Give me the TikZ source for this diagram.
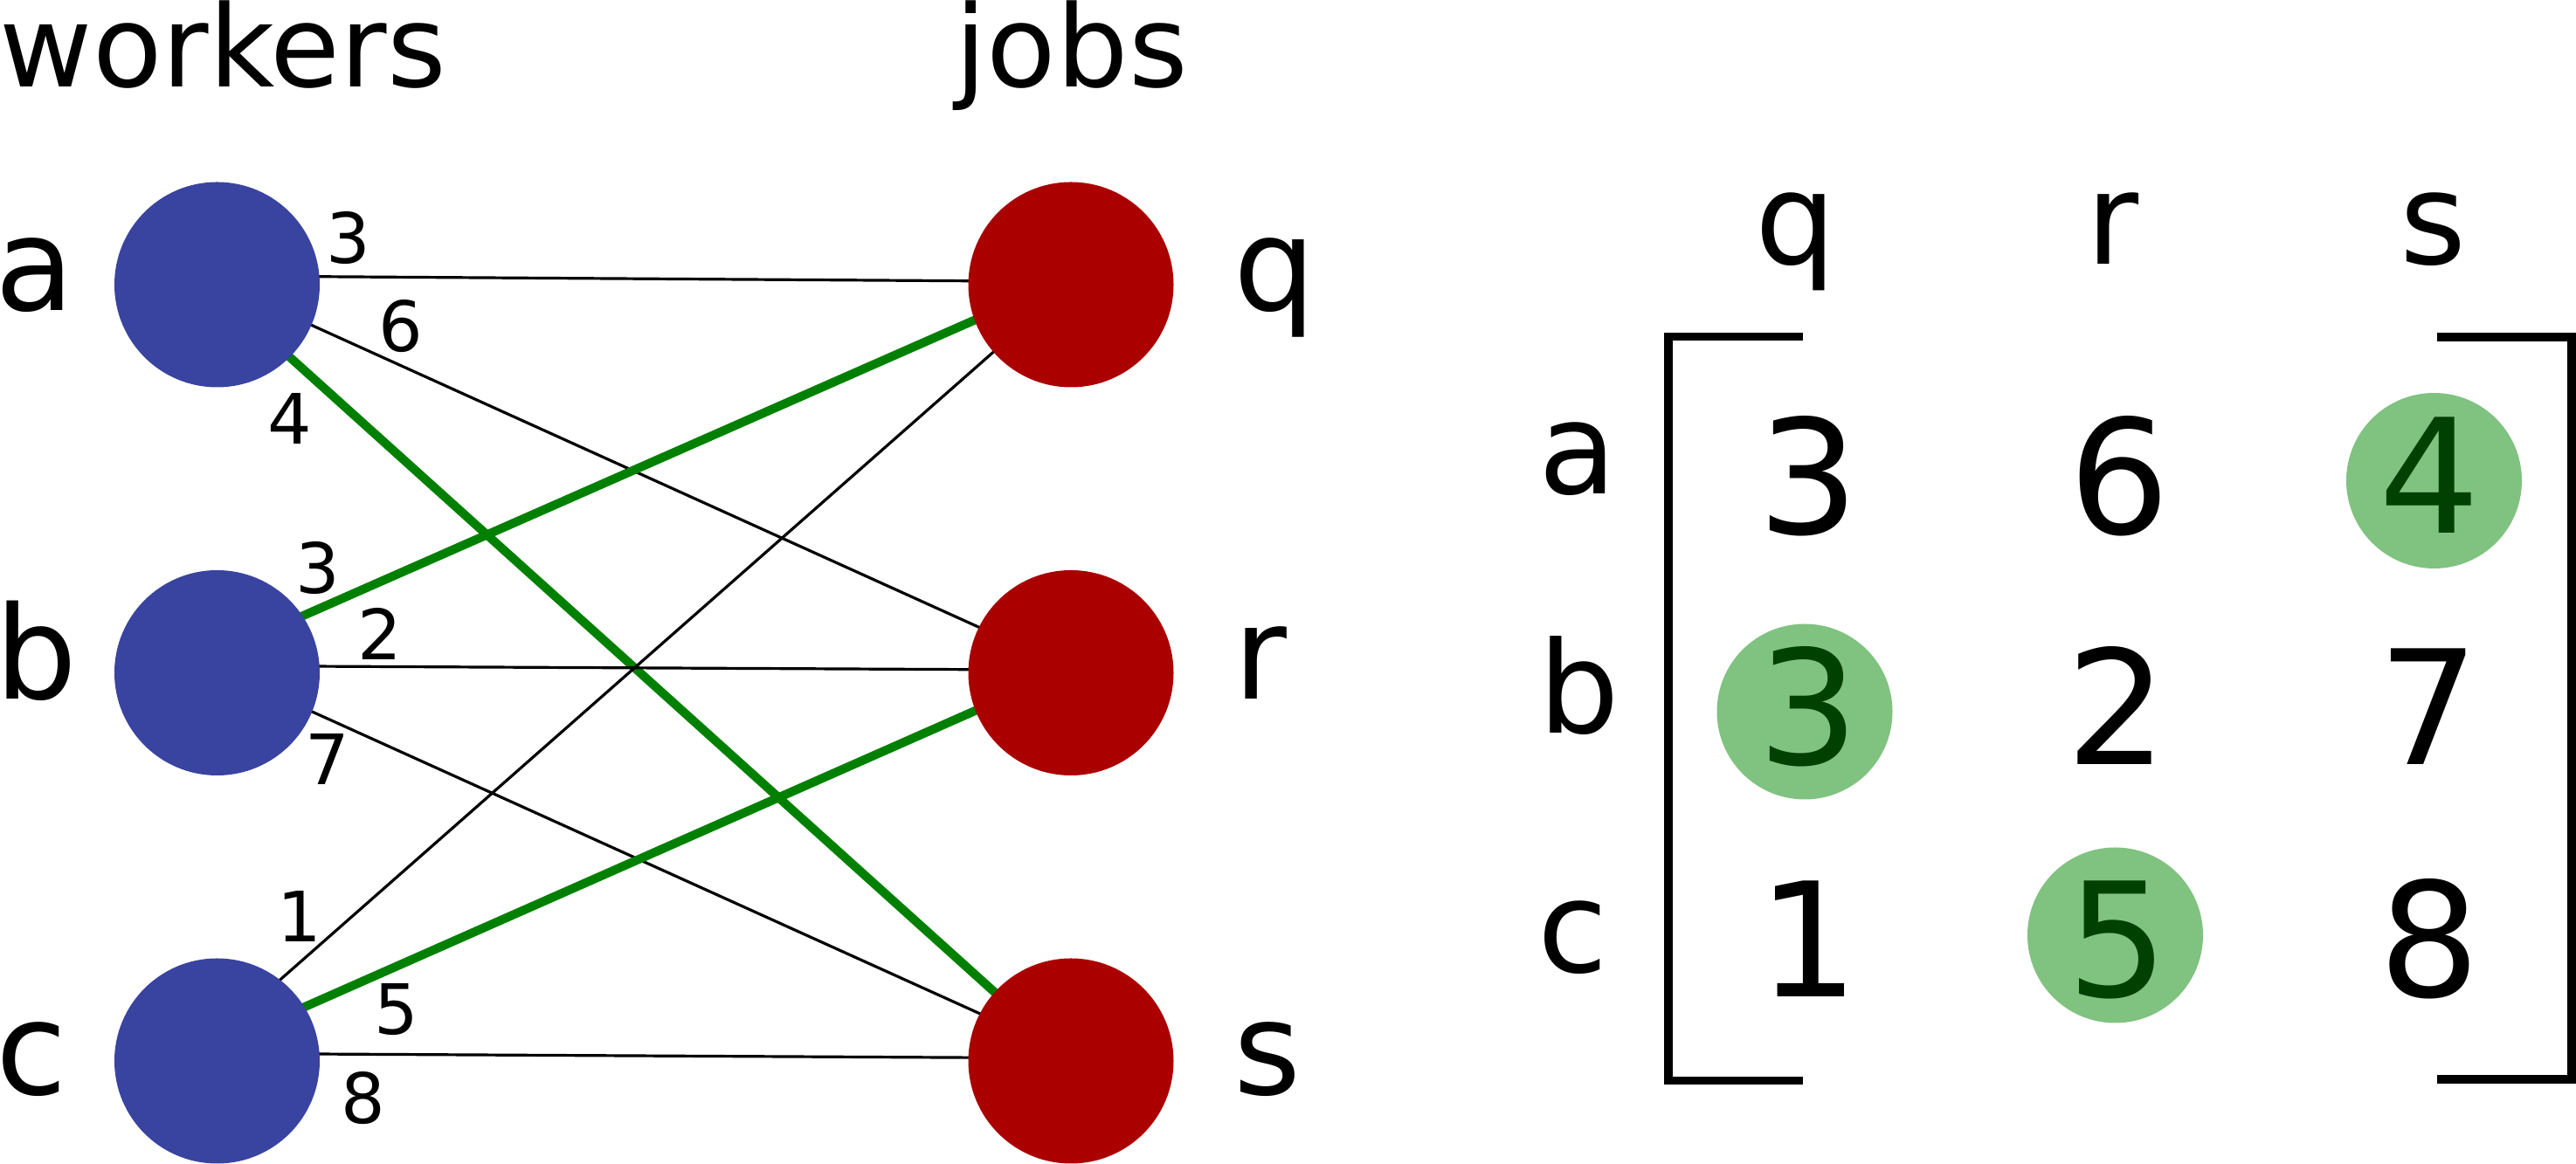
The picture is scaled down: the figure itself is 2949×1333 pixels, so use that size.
\documentclass[tikz,border=0pt]{standalone}
\usepackage{fontspec}
\setmainfont{DejaVu Sans}
\usetikzlibrary{calc}
\pgfdeclarelayer{bg}
\pgfsetlayers{bg,main}
\definecolor{wblue}{RGB}{57,67,160}
\definecolor{jred}{RGB}{170,0,0}
\definecolor{mgreen}{RGB}{0,128,0}
\definecolor{lgreen}{RGB}{128,194,128}
\definecolor{dgreen}{RGB}{0,64,0}
\tikzset{
 worker/.style={circle, fill=wblue, inner sep=0pt, minimum size=58.75pt},
 job/.style={circle, fill=jred, inner sep=0pt, minimum size=58.75pt},
 title/.style={anchor=base west, inner sep=0pt, font=\fontsize{32.5}{39}\selectfont},
 vlabel/.style={anchor=base west, inner sep=0pt, font=\fontsize{37}{44}\selectfont},
 wlabel/.style={anchor=center, inner sep=0pt, font=\fontsize{19.9}{24}\selectfont},
 thinedge/.style={draw=black, line width=0.8pt},
 chosen/.style={draw=mgreen, line width=2.5pt},
 mhead/.style={anchor=base west, inner sep=0pt, font=\fontsize{36.5}{44}\selectfont},
 entry/.style={anchor=center, inner sep=0pt, font=\fontsize{45.5}{55}\selectfont},
 pick/.style={circle, fill=lgreen, inner sep=0pt, minimum size=50.25pt},
 bracket/.style={draw=black, line width=2.3pt, line join=miter},
}
\begin{document}
\begin{tikzpicture}[x=0.25pt, y=-0.25pt]
\useasboundingbox (0,0) rectangle (2949,1333);

% titles
\node[title] (tw) at (-1,100) {workers};
\node[title] (tj) at (1093,100) {jobs};

% vertices
\node[worker] (a) at (248.5,326) {};
\node[worker] (b) at (248.5,770.5) {};
\node[worker] (c) at (248.5,1215) {};
\node[job] (q) at (1226,326) {};
\node[job] (r) at (1226,770.5) {};
\node[job] (s) at (1226,1215) {};

% vertex labels
\node[vlabel] (la) at (-6,356) {a};
\node[vlabel] (lb) at (-6,801) {b};
\node[vlabel] (lc) at (-5,1254) {c};
\node[vlabel] (lq) at (1412,356) {q};
\node[vlabel] (lr) at (1412,801) {r};
\node[vlabel] (ls) at (1412,1254) {s};

% edges
\begin{pgfonlayer}{bg}
\draw[thinedge] ($(a)+(0,-10)$) -- ($(q)+(0,-3.5)$);
\draw[thinedge] ($(a)+(0,-2.6)$) -- ($(r)+(0,-4.5)$);
\draw[chosen] ($(a)+(0,8)$) -- ($(s)+(0,0)$);
\draw[chosen] ($(b)+(0,-22)$) -- ($(q)+(0,-8)$);
\draw[thinedge] ($(b)+(0,-8)$) -- ($(r)+(0,-3.2)$);
\draw[thinedge] ($(b)+(0,-4.7)$) -- ($(s)+(0,-7)$);
\draw[thinedge] ($(c)+(0,-29.4)$) -- ($(q)+(0,-1)$);
\draw[chosen] ($(c)+(0,-17.6)$) -- ($(r)+(0,-5)$);
\draw[thinedge] ($(c)+(0,-8.6)$) -- ($(s)+(0,-3.2)$);
\end{pgfonlayer}

% edge weights
\node[wlabel] (waq) at (399,273) {3};
\node[wlabel] (war) at (458.5,374) {6};
\node[wlabel] (was) at (332,479.5) {4};
\node[wlabel] (wbq) at (364,651) {3};
\node[wlabel] (wbr) at (434.5,725.5) {2};
\node[wlabel] (wbs) at (374.5,869) {7};
\node[wlabel] (wcq) at (342.5,1049) {1};
\node[wlabel] (wcr) at (453.5,1156.5) {5};
\node[wlabel] (wcs) at (415.5,1257.5) {8};

% matrix headers
\node[mhead] (hq) at (2009,303) {q};
\node[mhead] (hr) at (2388,303) {r};
\node[mhead] (hs) at (2747,303) {s};
\node[mhead] (ra) at (1761,566) {a};
\node[mhead] (rb) at (1761,840) {b};
\node[mhead] (rc) at (1760,1114) {c};

% brackets
\draw[bracket] (2064,385.5) -- (1910,385.5) -- (1910,1237.5) -- (2064,1237.5);
\draw[bracket] (2790,386) -- (2944,386) -- (2944,1236) -- (2790,1236);

% highlighted cells
\node[pick] (pas) at (2786.5,550.5) {};
\node[pick] (pbq) at (2066,815) {};
\node[pick] (pcr) at (2421.5,1071) {};

% entries
\node[entry] (m11) at (2070,545) {3};
\node[entry] (m12) at (2426,545) {6};
\node[entry, text=dgreen] (m13) at (2781,544.5) {4};
\node[entry, text=dgreen] (m21) at (2070,809.5) {3};
\node[entry] (m22) at (2423,808) {2};
\node[entry] (m23) at (2780.5,809) {7};
\node[entry] (m31) at (2070.5,1075) {1};
\node[entry, text=dgreen] (m32) at (2424,1076) {5};
\node[entry] (m33) at (2781,1075) {8};
\end{tikzpicture}
\end{document}
